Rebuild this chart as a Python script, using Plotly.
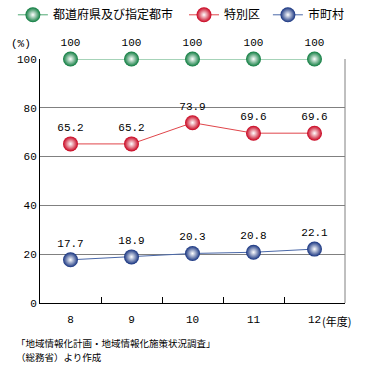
import plotly.graph_objects as go

years = ["8", "9", "10", "11", "12"]
pref = [100, 100, 100, 100, 100]
special = [65.2, 65.2, 73.9, 69.6, 69.6]
muni = [17.7, 18.9, 20.3, 20.8, 22.1]
names = ["都道府県及び指定都市", "特別区", "市町村"]
y_ticks = [0, 20, 40, 60, 80, 100]

num_font = dict(family="Liberation Mono, DejaVu Sans Mono, monospace", size=11, color="#000")
jp_font = dict(family="Noto Sans CJK JP, sans-serif", size=11, color="#000")
leg_font = dict(family="Noto Sans CJK JP, sans-serif", size=12, color="#000")
src_font = dict(family="Noto Sans CJK JP, sans-serif", size=9.5, color="#000")

series = [
    (pref, names[0], "#0a7a3c", "#4fa872", "legend", 0.035),
    (special, names[1], "#c8001c", "#e0454a", "legend2", 0.50),
    (muni, names[2], "#13307e", "#4a68a8", "legend3", 0.728),
]

fig = go.Figure()
legends = {}
for vals, name, mcol, lcol, leg, lx in series:
    fig.add_trace(go.Scatter(
        x=years, y=vals, name=name, mode="lines+markers+text",
        text=[f"{v:g}" if v == 100 else f"{v:.1f}" for v in vals],
        textposition="top center", textfont=num_font,
        line=dict(color=lcol, width=1),
        marker=dict(size=15, color=mcol, line=dict(width=0),
                    gradient=dict(type="radial", color="#ffffff")),
        cliponaxis=False, legend=leg,
    ))
    legends[leg] = dict(orientation="h", xref="container", yref="container",
                        x=lx, y=0.96, xanchor="left", yanchor="middle",
                        font=leg_font, bgcolor="rgba(0,0,0,0)", borderwidth=0)

fig.update_layout(
    width=368, height=370,
    margin=dict(l=40, r=23, t=59, b=67, autoexpand=False),
    paper_bgcolor="white", plot_bgcolor="white",
    showlegend=True,
    font=jp_font,
    **legends,
)
fig.update_xaxes(
    type="category", range=[-0.5, 4.5],
    showline=True, linecolor="#000", linewidth=1,
    ticks="inside", tickson="boundaries", ticklen=6, tickcolor="#000",
    showgrid=False, tickfont=num_font, fixedrange=True, automargin=False,
    ticklabelstandoff=6,
)
fig.update_yaxes(
    range=[0, 100], tickvals=y_ticks,
    showline=True, linecolor="#000", linewidth=1,
    showgrid=True, gridcolor="#808080", gridwidth=1,
    ticks="", tickfont=num_font, zeroline=False, fixedrange=True, automargin=False,
)
fig.add_shape(type="line", xref="paper", yref="y", x0=1, x1=1, y0=0, y1=100,
              line=dict(color="#808080", width=1), layer="below")
fig.add_annotation(text="(%)", xref="paper", yref="paper", x=-0.023, y=1.061,
                   xanchor="right", yanchor="middle", showarrow=False, font=num_font)
fig.add_annotation(text="(年度)", xref="paper", yref="paper", x=0.918, y=-0.074,
                   xanchor="left", yanchor="middle", showarrow=False, font=jp_font)
fig.add_annotation(text="「地域情報化計画・地域情報化施策状況調査」",
                   xref="paper", yref="paper", x=-0.085, y=-0.162,
                   xanchor="left", yanchor="middle", showarrow=False, font=src_font)
fig.add_annotation(text="（総務省）より作成",
                   xref="paper", yref="paper", x=-0.085, y=-0.223,
                   xanchor="left", yanchor="middle", showarrow=False, font=src_font)

fig.write_html("out.html", config={"displayModeBar": False},
               post_script="document.body.style.margin='0';")
